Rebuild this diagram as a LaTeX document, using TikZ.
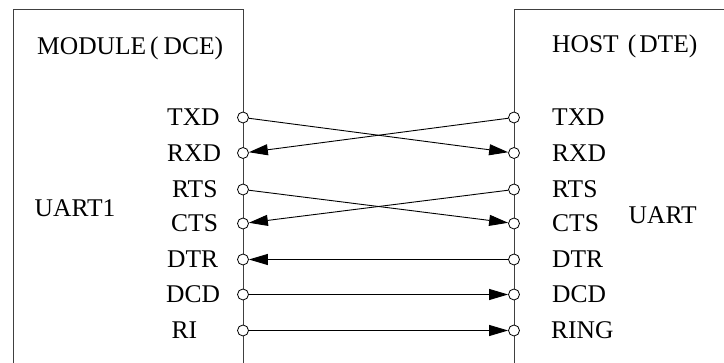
\documentclass[tikz,border=0pt]{standalone}
\usepackage{fontspec}
\setmainfont{Liberation Serif}
\usetikzlibrary{arrows.meta}
\begin{document}
\begin{tikzpicture}[x=1pt,y=-1pt,
  box/.style={draw=black!75, line width=0.9pt},
  pin/.style={circle, draw=black, fill=white, line width=0.8pt, minimum size=11pt, inner sep=0pt},
  lbl/.style={anchor=base west, inner sep=0pt, font=\fontsize{25.5}{29}\selectfont},
  wire/.style={draw=black, line width=0.9pt, -{Triangle[length=19pt,width=11pt]}}
]
\useasboundingbox (0,0) rectangle (724,363);
\fill[white] (0,0) rectangle (724,363);
\clip (0,0) rectangle (724,363);
% boxes
\draw[box] (13,375) -- (13,9) -- (243,9) -- (243,375);
\draw[box] (514,375) -- (514,9) -- (740,9);
% pins left
\node[pin] (L1) at (243,117.5) {};
\node[pin] (L2) at (243,153) {};
\node[pin] (L3) at (243,189.5) {};
\node[pin] (L4) at (243,223.5) {};
\node[pin] (L5) at (243,259.5) {};
\node[pin] (L6) at (243,294.5) {};
\node[pin] (L7) at (243,330.5) {};
% pins right
\node[pin] (R1) at (514,117.5) {};
\node[pin] (R2) at (514,153) {};
\node[pin] (R3) at (514,189.5) {};
\node[pin] (R4) at (514,223.5) {};
\node[pin] (R5) at (514,259.5) {};
\node[pin] (R6) at (514,294.5) {};
\node[pin] (R7) at (514,330.5) {};
% wires
\draw[wire] (L1) -- (R2);
\draw[wire] (R1) -- (L2);
\draw[wire] (L3) -- (R4);
\draw[wire] (R3) -- (L4);
\draw[wire] (R5) -- (L5);
\draw[wire] (L6) -- (R6);
\draw[wire] (L7) -- (R7);
% titles
\node[lbl] (mod) at (37,55) {MODULE\kern4pt(\kern5pt DCE)};
\node[lbl] (host) at (552,52.3) {HOST\kern9pt(\kern3pt DTE)};
\node[lbl] (u1) at (34.5,217) {UART1};
\node[lbl] (u2) at (628.5,224) {UART};
% left labels
\node[lbl] (tl1) at (167,126) {TXD};
\node[lbl] (tl2) at (167,161.5) {RXD};
\node[lbl] (tl3) at (172,198) {RTS};
\node[lbl] (tl4) at (171,232) {CTS};
\node[lbl] (tl5) at (167,268) {DTR};
\node[lbl] (tl6) at (166,303) {DCD};
\node[lbl] (tl7) at (171.5,339) {RI};
% right labels
\node[lbl] (tr1) at (552,126) {TXD};
\node[lbl] (tr2) at (552,161.5) {RXD};
\node[lbl] (tr3) at (552,198) {RTS};
\node[lbl] (tr4) at (552,232) {CTS};
\node[lbl] (tr5) at (552,268) {DTR};
\node[lbl] (tr6) at (552,303) {DCD};
\node[lbl] (tr7) at (551,339) {RING};
\end{tikzpicture}
\end{document}
